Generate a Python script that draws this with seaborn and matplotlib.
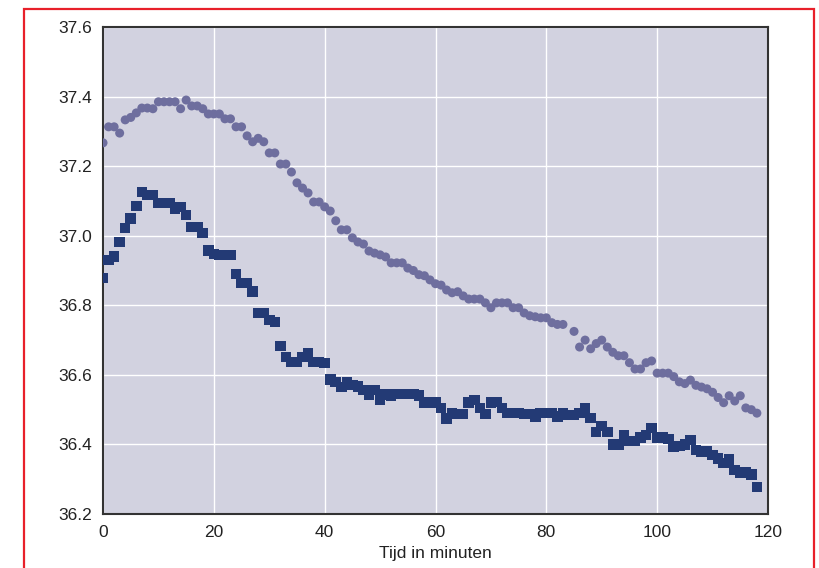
import numpy as np
import pandas as pd
import seaborn as sns
import matplotlib.pyplot as plt
from matplotlib.patches import Rectangle

minutes = list(range(0, 119))

# upper series (circles)
temp_circles = [
    37.267, 37.313, 37.313, 37.295, 37.333, 37.340, 37.353, 37.367, 37.367, 37.365,
    37.385, 37.385, 37.385, 37.385, 37.365, 37.390, 37.373, 37.373, 37.365, 37.350,
    37.350, 37.350, 37.336, 37.336, 37.313, 37.313, 37.287, 37.270, 37.280, 37.270,
    37.238, 37.238, 37.206, 37.206, 37.183, 37.152, 37.137, 37.123, 37.097, 37.097,
    37.083, 37.071, 37.043, 37.017, 37.017, 36.994, 36.982, 36.976, 36.956, 36.950,
    36.945, 36.939, 36.922, 36.922, 36.922, 36.907, 36.900, 36.888, 36.885, 36.873,
    36.862, 36.858, 36.844, 36.836, 36.839, 36.827, 36.818, 36.818, 36.818, 36.807,
    36.793, 36.807, 36.807, 36.807, 36.793, 36.793, 36.778, 36.770, 36.767, 36.764,
    36.764, 36.750, 36.745, 36.745, np.nan, 36.725, 36.680, 36.700, 36.675, 36.690,
    36.700, 36.680, 36.665, 36.655, 36.655, 36.635, 36.617, 36.617, 36.635, 36.640,
    36.605, 36.605, 36.605, 36.595, 36.580, 36.575, 36.585, 36.570, 36.565, 36.560,
    36.550, 36.535, 36.520, 36.540, 36.525, 36.540, 36.505, 36.500, 36.490,
]

# lower series (squares)
temp_squares = [
    36.879, 36.930, 36.940, 36.982, 37.022, 37.050, 37.086, 37.126, 37.117, 37.117,
    37.094, 37.094, 37.094, 37.077, 37.083, 37.060, 37.025, 37.025, 37.008, 36.957,
    36.948, 36.945, 36.945, 36.945, 36.890, 36.864, 36.864, 36.840, 36.778, 36.778,
    36.758, 36.752, 36.683, 36.652, 36.637, 36.637, 36.652, 36.663, 36.637, 36.637,
    36.634, 36.586, 36.580, 36.565, 36.580, 36.571, 36.566, 36.557, 36.543, 36.557,
    36.528, 36.543, 36.540, 36.545, 36.545, 36.545, 36.545, 36.540, 36.520, 36.520,
    36.520, 36.505, 36.474, 36.490, 36.488, 36.488, 36.520, 36.528, 36.505, 36.488,
    36.520, 36.522, 36.505, 36.490, 36.490, 36.490, 36.488, 36.488, 36.480, 36.490,
    36.490, 36.490, 36.480, 36.490, 36.485, 36.485, 36.490, 36.505, 36.476, 36.436,
    36.453, 36.436, 36.400, 36.400, 36.425, 36.410, 36.410, 36.420, 36.427, 36.447,
    36.420, 36.420, 36.416, 36.393, 36.396, 36.400, 36.413, 36.384, 36.380, 36.380,
    36.370, 36.360, 36.347, 36.356, 36.327, 36.320, 36.320, 36.313, 36.278,
]

x_ticks = [0, 20, 40, 60, 80, 100, 120]
y_ticks = [36.2, 36.4, 36.6, 36.8, 37.0, 37.2, 37.4, 37.6]

df_c = pd.DataFrame({"tijd": minutes, "temp": temp_circles})
df_s = pd.DataFrame({"tijd": minutes, "temp": temp_squares})

sns.set_style("white")
plt.rcParams["font.family"] = ["Liberation Sans", "DejaVu Sans"]

fig = plt.figure(figsize=(8.19, 5.68), dpi=100)
ax = fig.add_axes([0.1258, 0.095, 0.8119, 0.8575])
ax.set_facecolor("#d2d2e0")

sns.scatterplot(data=df_c, x="tijd", y="temp", ax=ax, marker="o", s=42,
                color="#6e6e9e", edgecolor="none", zorder=3)
sns.scatterplot(data=df_s, x="tijd", y="temp", ax=ax, marker="s", s=58,
                color="#233a75", edgecolor="none", zorder=3)

ax.set_xlim(0, 120)
ax.set_ylim(36.2, 37.6)
ax.set_xticks(x_ticks)
ax.set_yticks(y_ticks)
ax.set_yticklabels([f"{v:.1f}" for v in y_ticks])
ax.grid(True, color="white", linewidth=1.0)
ax.set_axisbelow(True)
ax.tick_params(length=0, labelsize=12.5, colors="#222222", pad=8)
ax.set_xlabel("Tijd in minuten", fontsize=12.5, color="#222222", labelpad=4)
ax.set_ylabel("")
for sp in ax.spines.values():
    sp.set_color("#333333")
    sp.set_linewidth(1.5)

# red frame around the figure
fig.patches.append(Rectangle((24 / 819, -0.1), 790 / 819, 1.1 - 9 / 568,
                             transform=fig.transFigure, fill=False,
                             edgecolor="#e8202a", linewidth=1.6, zorder=0))

fig.savefig("out.png", dpi=100)
